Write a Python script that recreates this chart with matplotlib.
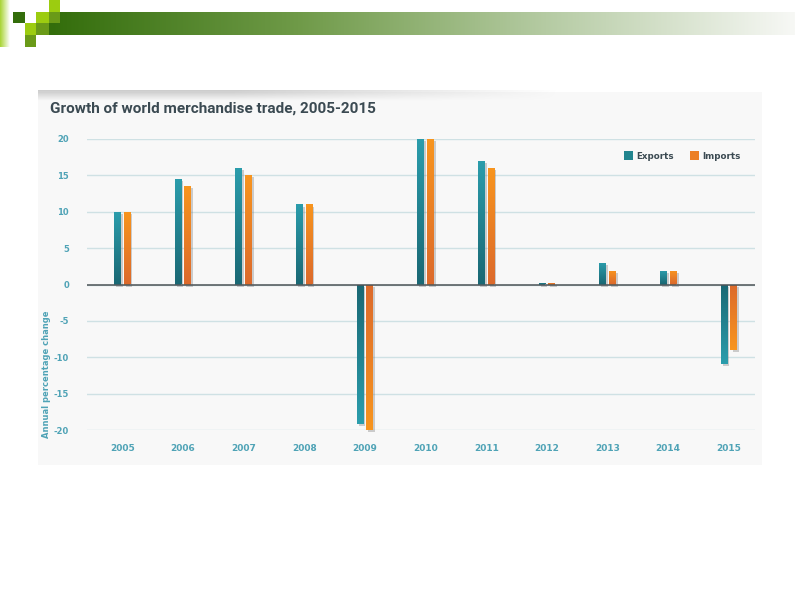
"""Growth of world merchandise trade, 2005-2015 (slide recreation)."""

import numpy as np
import matplotlib.pyplot as plt
from matplotlib.colors import LinearSegmentedColormap
from matplotlib.patches import Rectangle
import matplotlib.patheffects as pe

years = ["2005", "2006", "2007", "2008", "2009", "2010",
         "2011", "2012", "2013", "2014", "2015"]
exports = [10, 14.5, 16, 11, -19.2, 20, 17, 0.2, 3, 1.8, -10.9]
imports = [10, 13.6, 15, 11, -20, 20, 16, 0.2, 1.8, 1.8, -9]
y_ticks = [-20, -15, -10, -5, 0, 5, 10, 15, 20]

W, H = 800, 600
fig = plt.figure(figsize=(8, 6), dpi=100)
fig.patch.set_facecolor("white")


def px_axes(x0, y0, x1, y1):
    """Axes placed with pixel coords measured from the top-left corner."""
    return fig.add_axes([x0 / W, 1 - y1 / H, (x1 - x0) / W, (y1 - y0) / H])


def px_rect(x0, y0, x1, y1, color, z=-1):
    fig.add_artist(Rectangle((x0 / W, 1 - y1 / H), (x1 - x0) / W, (y1 - y0) / H,
                             transform=fig.transFigure, color=color, lw=0,
                             zorder=z))


# ── slide decoration: green banner + squares ────────────────────────────────
bax = px_axes(49, 12, 795, 35)
banner = LinearSegmentedColormap.from_list(
    "banner", ["#336d0b", "#6f9a48", "#b5cba3", "#f7f8f5"])
bax.imshow(np.linspace(0, 1, 256)[None, :], cmap=banner, aspect="auto")
bax.axis("off")

sax = px_axes(0, 0, 10, 47)
strip = LinearSegmentedColormap.from_list("strip", ["#a8d432", "#ffffff"])
sax.imshow(np.linspace(0, 1, 64)[None, :], cmap=strip, aspect="auto")
sax.axis("off")

lime, mid, dark = "#9ccc10", "#6a9a18", "#336d0b"
px_rect(49, 0, 60, 12, lime, 2)
px_rect(13, 12, 25, 23, dark, 2)
px_rect(36, 12, 49, 23, lime, 2)
px_rect(49, 12, 60, 23, mid, 2)
px_rect(25, 23, 36, 35, lime, 2)
px_rect(36, 23, 49, 35, mid, 2)
px_rect(25, 35, 36, 47, mid, 2)

# ── chart panel ──────────────────────────────────────────────────────────────
px_rect(38, 92, 762, 465, "#f8f8f8")
shx = px_axes(38, 90, 560, 101)
fade = np.zeros((20, 200, 4))
fade[..., :3] = 0.55
fade[..., 3] = (np.linspace(0.45, 0, 20)[:, None]
                * np.clip(np.linspace(1.6, 0, 200), 0, 1)[None, :])
shx.imshow(fade, aspect="auto")
shx.axis("off")

fig.text(50 / W, 1 - 109 / H, "Growth of world merchandise trade, 2005-2015",
         fontsize=11, fontweight="bold", color="#3b4a52",
         family="Roboto", ha="left", va="center")

# ── bar chart ────────────────────────────────────────────────────────────────
ax = px_axes(87, 139, 755, 430)
ax.set_facecolor("none")

x = np.arange(len(years))
width = 0.11
teal_cm = LinearSegmentedColormap.from_list("teal", ["#1a6874", "#2b9dac"])
orange_cm = LinearSegmentedColormap.from_list("orange", ["#dc6a2c", "#f8951e"])
grad = np.linspace(0, 1, 64)[:, None]
shadow = [pe.SimplePatchShadow(offset=(1.5, -1.5), shadow_rgbFace="#777777",
                               alpha=0.35), pe.Normal()]

for vals, off, base, cm, lab in [(exports, -0.08, "#22858f", teal_cm, "Exports"),
                                 (imports, 0.08, "#ec7f24", orange_cm, "Imports")]:
    bars = ax.bar(x + off, vals, width, color=base, label=lab, zorder=3,
                  path_effects=shadow, clip_on=False)
    for b, v in zip(bars, vals):
        x0 = b.get_x()
        im = ax.imshow(grad, cmap=cm, origin="lower", aspect="auto", zorder=4,
                       extent=[x0, x0 + width, 0, v], interpolation="bilinear")
        im.set_clip_path(b)

ax.set_xlim(-0.58, 10.43)
ax.set_ylim(-20, 20)
ax.set_yticks(y_ticks)
ax.set_yticklabels([str(t) for t in y_ticks])
ax.set_xticks(x)
ax.set_xticklabels(years)
ax.tick_params(length=0, colors="#4fa3b6", labelsize=6)
ax.tick_params(axis="y", pad=13)
ax.tick_params(axis="x", pad=10, labelsize=6.5)
for lbl in ax.get_xticklabels() + ax.get_yticklabels():
    lbl.set_fontweight("bold")

ax.yaxis.grid(True, color="#cfe1e4", lw=1)
ax.set_axisbelow(True)
ax.axhline(0, color="#4d5357", lw=1.1, zorder=5)
for s in ax.spines.values():
    s.set_visible(False)

ax.set_ylabel("Annual percentage change", fontsize=6, fontweight="bold",
              color="#4fa3b6")
ax.yaxis.set_label_coords(-0.054, 0.19)

leg = ax.legend(loc="upper right", bbox_to_anchor=(0.99, 0.985), ncol=2,
                frameon=False, fontsize=6.3, handlelength=1.0, handleheight=1.2,
                handletextpad=0.4, columnspacing=1.8)
for t in leg.get_texts():
    t.set_color("#3b4a52")
    t.set_fontweight("bold")
for h in leg.legend_handles:
    h.set_path_effects([])

plt.savefig("out.png", dpi=100, facecolor=fig.get_facecolor())
